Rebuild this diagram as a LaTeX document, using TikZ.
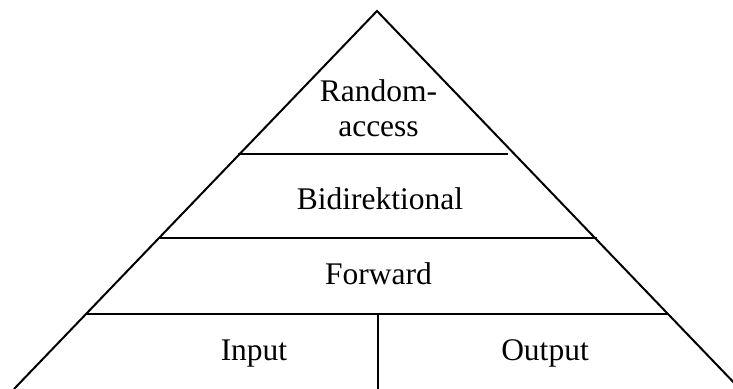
\documentclass[tikz,border=0pt]{standalone}
\usepackage{fontspec}
\setmainfont{Liberation Serif}
\usepackage{tikz}

\begin{document}
\begin{tikzpicture}[x=0.5pt,y=-0.5pt,line width=1pt]
    \tikzstyle{every node}=[inner sep=0pt,font=\fontsize{15.75}{17.5}\selectfont];
    \tikzstyle{level} = [draw,line cap=butt];

    \useasboundingbox (0,0) rectangle (733,389);

    % outline of the pyramid
    \coordinate (top) at (377,11);
    \coordinate (leftfoot) at (14,389);
    \coordinate (rightfoot) at (740,389);

    % the steps
    \coordinate (l1) at (238,154);
    \coordinate (r1) at (508,154);
    \coordinate (l2) at (160,238);
    \coordinate (r2) at (597,238);
    \coordinate (l3) at (86,314);
    \coordinate (r3) at (668,314);
    \coordinate (split) at (378,314);
    \coordinate (splitfoot) at (378,389);

    \node[anchor=base,align=center] (random) at (378.5,137) {Random-\\access};
    \node[anchor=base] (bidir) at (380,210) {Bidirektional};
    \node[anchor=base] (forward) at (378.5,285) {Forward};
    \node[anchor=base] (input) at (254,361) {Input};
    \node[anchor=base] (output) at (545,361) {Output};

    \draw (leftfoot) -- (top) -- (rightfoot);
    \path[level] (l1) -- (r1);
    \path[level] (l2) -- (r2);
    \path[level] (l3) -- (r3);
    \path[level] (split) -- (splitfoot);

\end{tikzpicture}
\end{document}
